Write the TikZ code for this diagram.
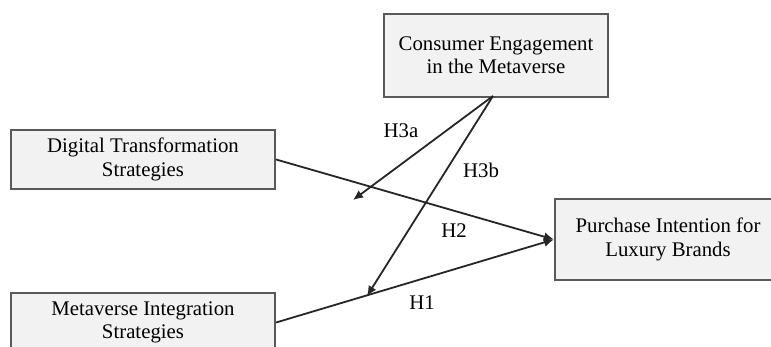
\documentclass[tikz,border=0pt]{standalone}
\usepackage{fontspec}
\setmainfont{Liberation Serif}
\usetikzlibrary{arrows.meta}
\begin{document}
\begin{tikzpicture}[x=0.5pt,y=-0.5pt,
  varbox/.style={draw=black!65, line width=1.1pt, fill=black!5, align=center,
    inner sep=0pt, font=\fontsize{10.4}{11.6}\selectfont},
  link/.style={draw=black!85, line width=0.9pt},
  tip/.style={-{Latex[length=5pt,width=4.5pt]}},
  hlabel/.style={font=\fontsize{10.4}{12}\selectfont, inner sep=1pt}]
\clip (0,0) rectangle (771,347);
\fill[white] (0,0) rectangle (771,347);
\node[varbox, minimum width=112pt, minimum height=41.5pt] (ce) at (496,55.5) {Consumer Engagement\\in the Metaverse};
\node[varbox, minimum width=132pt, minimum height=29.5pt] (dt) at (143,159.5) {Digital Transformation\\Strategies};
\node[varbox, minimum width=132pt, minimum height=29.5pt] (mi) at (143,322.5) {Metaverse Integration\\Strategies};
\node[varbox, minimum width=113pt, minimum height=40.5pt] (pi) at (668,239.5) {Purchase Intention for\\Luxury Brands};
\coordinate (top) at (493,96);
\coordinate (h3aend) at (353,200);
\coordinate (h3bend) at (367,296);
\draw[link,tip] (dt.east) -- (pi.west);
\draw[link,tip] (mi.east) -- (pi.west);
\draw[link,tip] (top) -- (h3aend);
\draw[link,tip] (top) -- (h3bend);
\node[hlabel] (l3a) at (401,131) {H3a};
\node[hlabel] (l3b) at (481,170) {H3b};
\node[hlabel] (l2) at (454,231) {H2};
\node[hlabel] (l1) at (422,303) {H1};
\end{tikzpicture}
\end{document}
